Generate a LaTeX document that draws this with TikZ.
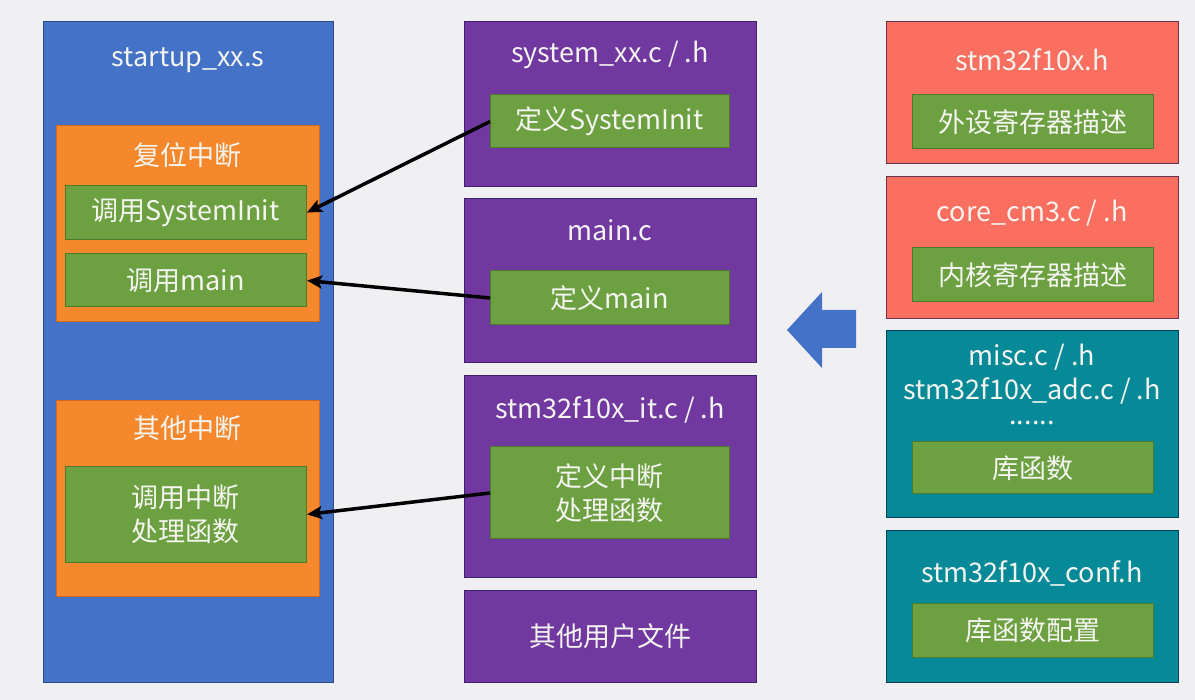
\documentclass[tikz,border=0pt]{standalone}
\usepackage{fontspec}
\setmainfont{Noto Sans CJK SC}
\usetikzlibrary{arrows.meta}
\definecolor{bg}{HTML}{F0F0F2}
\definecolor{blueF}{HTML}{4472C7}
\definecolor{blueD}{HTML}{2A4A8A}
\definecolor{orangeF}{HTML}{F5882C}
\definecolor{orangeD}{HTML}{D06A1E}
\definecolor{greenF}{HTML}{6CA040}
\definecolor{greenD}{HTML}{4A7A2A}
\definecolor{purpleF}{HTML}{7138A0}
\definecolor{purpleD}{HTML}{3E2070}
\definecolor{salmonF}{HTML}{FA6F60}
\definecolor{salmonD}{HTML}{6A3050}
\definecolor{tealF}{HTML}{078A98}
\definecolor{tealD}{HTML}{0B3F58}
\definecolor{txt}{HTML}{F4F4F0}
\begin{document}
\begin{tikzpicture}[x=1pt,y=-1pt,
  box/.style={rectangle, inner sep=0pt, outer sep=0pt, line width=1pt},
  bluebox/.style={box, fill=blueF, draw=blueD},
  orangebox/.style={box, fill=orangeF, draw=orangeD},
  greenbox/.style={box, fill=greenF, draw=greenD, text=txt, font=\fontsize{27}{34}\selectfont, align=center},
  purplebox/.style={box, fill=purpleF, draw=purpleD},
  salmonbox/.style={box, fill=salmonF, draw=salmonD},
  tealbox/.style={box, fill=tealF, draw=tealD},
  title/.style={inner sep=0pt, text=txt, font=\fontsize{27}{34}\selectfont, align=center},
  conn/.style={line width=3.5pt, black, -{Stealth[length=15pt,width=13pt,inset=3pt]}, shorten >=1pt}
]
\fill[bg] (0,0) rectangle (1195,700);
\useasboundingbox (0,0) rectangle (1195,700);

% left column
\node[bluebox, minimum width=290pt, minimum height=660pt] (startup) at (188,352) {};
\node[title] (tstartup) at (188,60) {startup\_xx.s};
\node[orangebox, minimum width=263pt, minimum height=196pt] (reset) at (187.5,224) {};
\node[title] (treset) at (187.5,155) {复位中断};
\node[greenbox, minimum width=241pt, minimum height=54pt] (g1) at (185.5,213) {调用SystemInit};
\node[greenbox, minimum width=241pt, minimum height=53pt] (g2) at (185.5,280.5) {调用main};
\node[orangebox, minimum width=263pt, minimum height=195pt] (other) at (187.5,498.5) {};
\node[title] (tother) at (187.5,428) {其他中断};
\node[greenbox, minimum width=241pt, minimum height=95pt] (g3) at (185.5,514.5) {调用中断\\处理函数};

% middle column
\node[purplebox, minimum width=292pt, minimum height=165pt] (p1) at (610,104.5) {};
\node[title] (tp1) at (610,55) {system\_xx.c / .h};
\node[greenbox, minimum width=239pt, minimum height=53pt] (d1) at (609.5,121.5) {定义SystemInit};
\node[purplebox, minimum width=292pt, minimum height=164pt] (p2) at (610,281) {};
\node[title] (tp2) at (610,230) {main.c};
\node[greenbox, minimum width=239pt, minimum height=54pt] (d2) at (609.5,298) {定义main};
\node[purplebox, minimum width=292pt, minimum height=201pt] (p3) at (610,476.5) {};
\node[title] (tp3) at (610,410) {stm32f10x\_it.c / .h};
\node[greenbox, minimum width=239pt, minimum height=92pt] (d3) at (609.5,493) {定义中断\\处理函数};
\node[purplebox, minimum width=292pt, minimum height=92pt, text=txt, font=\fontsize{27}{34}\selectfont] (p4) at (610,636) {其他用户文件};

% right column
\node[salmonbox, minimum width=292pt, minimum height=142pt] (r1) at (1032,93) {};
\node[title] (tr1) at (1032,60) {stm32f10x.h};
\node[greenbox, minimum width=241pt, minimum height=54pt] (e1) at (1032.5,122) {外设寄存器描述};
\node[salmonbox, minimum width=292pt, minimum height=142pt] (r2) at (1032,248) {};
\node[title] (tr2) at (1032,213) {core\_cm3.c / .h};
\node[greenbox, minimum width=241pt, minimum height=54pt] (e2) at (1032.5,275) {内核寄存器描述};
\node[tealbox, minimum width=292pt, minimum height=187pt] (r3) at (1032,424.5) {};
\node[title] (tr3a) at (1032,357) {misc.c / .h};
\node[title] (tr3b) at (1032,391) {stm32f10x\_adc.c / .h};
\node[title, anchor=base, text height=4pt, text depth=0pt] (tr3c) at (1032,425) {......};
\node[greenbox, minimum width=241pt, minimum height=52pt] (e3) at (1032.5,468) {库函数};
\node[tealbox, minimum width=292pt, minimum height=151pt] (r4) at (1032,606.5) {};
\node[title] (tr4) at (1032,573) {stm32f10x\_conf.h};
\node[greenbox, minimum width=241pt, minimum height=54pt] (e4) at (1032.5,630) {库函数配置};

% big blue arrow
\fill[blueF] (787,330) -- (822,292) -- (822,310) -- (856,310) -- (856,348) -- (822,348) -- (822,368) -- cycle;

% connectors
\draw[conn] (d1.west) -- (g1.east);
\draw[conn] (d2.west) -- (g2.east);
\draw[conn] (d3.west) -- (g3.east);
\end{tikzpicture}
\end{document}
